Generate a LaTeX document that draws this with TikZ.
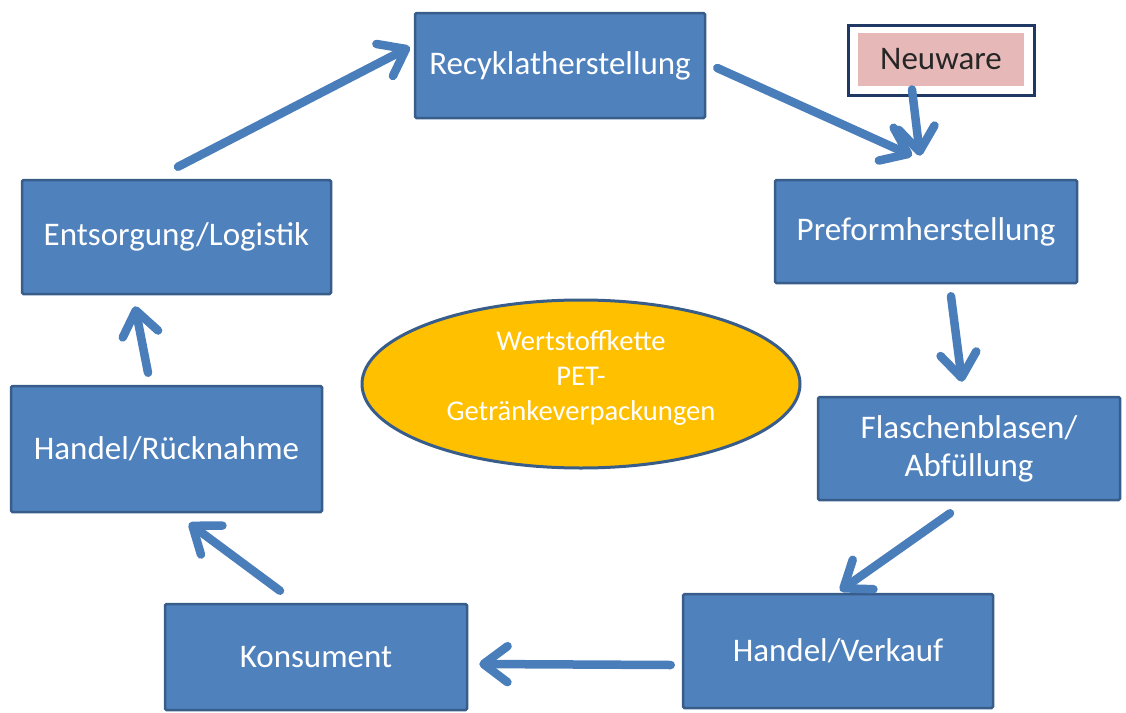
\documentclass[tikz,border=0pt]{standalone}
\usepackage{fontspec}
\setmainfont{Carlito}
\usetikzlibrary{arrows.meta,shapes.geometric}
\definecolor{boxblue}{HTML}{4F81BD}
\definecolor{boxline}{HTML}{385D8A}
\definecolor{arrblue}{HTML}{4A7EBB}
\definecolor{pinkfill}{HTML}{E6B9B8}
\definecolor{navy}{HTML}{1F3864}
\definecolor{amber}{HTML}{FFC000}
\tikzset{
  stepbox/.style={draw=boxline, line width=2.5pt, fill=boxblue, text=white,
    rounded corners=1.5pt, inner sep=0pt, align=center,
    font=\fontsize{33}{38}\selectfont},
  arr/.style={draw=arrblue, line width=8.5pt, line cap=round,
    -{Straight Barb[length=24pt, width=36pt, round]}},
}
\begin{document}
\begin{tikzpicture}[x=1pt,y=-1pt]
\useasboundingbox (0,0) rectangle (1126,712);
\node[stepbox, minimum width=290pt, minimum height=105pt] (rec) at (560,65.5) {Recyklatherstellung};
\node[draw=navy, line width=3pt, fill=white, minimum width=186pt, minimum height=70pt, inner sep=0pt] (neu) at (941,60) {};
\node[fill=pinkfill, minimum width=166pt, minimum height=53pt, inner sep=0pt, text=black!85,
  font=\fontsize{33}{38}\selectfont] (neuin) at (941,59.5) {Neuware};
\node[stepbox, minimum width=302pt, minimum height=103pt] (pre) at (926,231.5) {Preformherstellung};
\node[stepbox, minimum width=302pt, minimum height=103pt] (fla) at (969,448.5) {Flaschenblasen/\\Abfüllung};
\node[stepbox, minimum width=310pt, minimum height=114pt] (ver) at (838,651) {Handel/Verkauf};
\node[stepbox, minimum width=302pt, minimum height=106pt] (kon) at (316,657) {Konsument};
\node[stepbox, minimum width=311pt, minimum height=126pt] (rue) at (166.5,449) {Handel/Rücknahme};
\node[stepbox, minimum width=309pt, minimum height=114pt] (ent) at (176.5,237) {Entsorgung/Logistik};
\node[ellipse, draw=boxline, line width=3pt, fill=amber, minimum width=438pt,
  minimum height=168pt, inner sep=0pt] (ell) at (581,384) {};
\node[text=white, align=center, font=\fontsize{28.6}{35}\selectfont, inner sep=0pt]
  (elltext) at ([yshift=6]ell.center) {Wertstoffkette\\PET-\\Getränkeverpackungen};

\draw[arr] ([shift={(1.5,-12)}]ent.north) -- ([shift={(-4,-18.5)}]rec.west);
\draw[arr] ([shift={(11,2.5)}]rec.east) -- ([shift={(-14,-23)}]pre.north);
\draw[arr] ([shift={(-29,-7)}]neu.south) -- ([shift={(-6,-23)}]pre.north);
\draw[arr] ([shift={(25,12)}]pre.south) -- ([shift={(-7,-14)}]fla.north);
\draw[arr] ([shift={(-19,12)}]fla.south) -- ([shift={(2,-2)}]ver.north);
\draw[arr] ([shift={(-11,14)}]ver.west) -- ([shift={(11,7)}]kon.east);
\draw[arr] ([shift={(-36,-12)}]kon.north) -- ([shift={(22.5,10)}]rue.south);
\draw[arr] ([shift={(-18.5,-12)}]rue.north) -- ([shift={(-41.5,11)}]ent.south);
\end{tikzpicture}
\end{document}
